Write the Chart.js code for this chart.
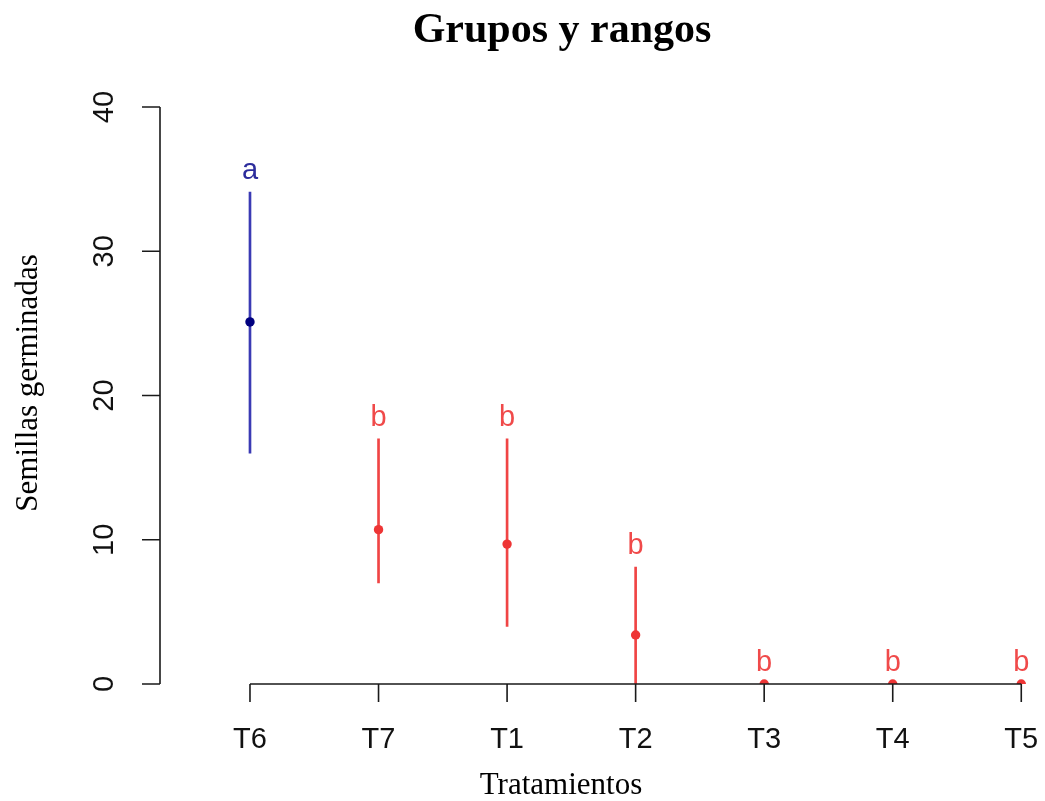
<!DOCTYPE html>
<html>
<head>
<meta charset="utf-8">
<script src="https://cdn.jsdelivr.net/npm/chart.js@4.4.1/dist/chart.umd.min.js"></script>
<style>
  body { margin: 0; background: #ffffff; }
  canvas { display: block; }
</style>
</head>
<body>
<canvas id="myChart" width="1045" height="801"></canvas>
<script>
// values
var treatments = ["T6", "T7", "T1", "T2", "T3", "T4", "T5"];
var means = [25.1, 10.7, 9.7, 3.4, 0, 0, 0];
var mins = [16, 7, 4, 0, 0, 0, 0];
var maxs = [34.1, 17, 17, 8.1, 0, 0, 0];
var groups = ["a", "b", "b", "b", "b", "b", "b"];
var yTicks = [0, 10, 20, 30, 40];

var lineColors = groups.map(function (g) { return g == "a" ? "#3a3ab4" : "#f04444"; });
var pointColors = groups.map(function (g) { return g == "a" ? "#00007f" : "#ee3535"; });
var textColors = groups.map(function (g) { return g == "a" ? "#2c2c9c" : "#f04a4a"; });

var ranges = treatments.map(function (t, i) {
  return { x: i, y: [mins[i], maxs[i]] };
});
var centers = treatments.map(function (t, i) {
  return { x: i, y: means[i] };
});

// R style axes, title and group letters
var rAxes = {
  id: "rAxes",
  afterDraw: function (chart) {
    var ctx = chart.ctx;
    var xs = chart.scales.x;
    var ys = chart.scales.y;
    ctx.save();
    ctx.strokeStyle = "#1a1a1a";
    ctx.lineWidth = 1.6;
    ctx.fillStyle = "#111111";

    // y axis
    var ax = chart.chartArea.left;
    ctx.beginPath();
    ctx.moveTo(ax, ys.getPixelForValue(yTicks[0]));
    ctx.lineTo(ax, ys.getPixelForValue(yTicks[yTicks.length - 1]));
    yTicks.forEach(function (v) {
      var py = ys.getPixelForValue(v);
      ctx.moveTo(ax, py);
      ctx.lineTo(ax - 18, py);
    });
    ctx.stroke();
    ctx.font = "29px 'Liberation Sans', Arial, sans-serif";
    ctx.textAlign = "center";
    ctx.textBaseline = "middle";
    yTicks.forEach(function (v) {
      var py = ys.getPixelForValue(v);
      ctx.save();
      ctx.translate(ax - 55, py);
      ctx.rotate(-Math.PI / 2);
      ctx.fillText(String(v), 0, 0);
      ctx.restore();
    });

    // x axis
    var by = ys.getPixelForValue(0);
    ctx.beginPath();
    ctx.moveTo(xs.getPixelForValue(0), by);
    ctx.lineTo(xs.getPixelForValue(treatments.length - 1), by);
    treatments.forEach(function (t, i) {
      var px = xs.getPixelForValue(i);
      ctx.moveTo(px, by);
      ctx.lineTo(px, by + 18);
    });
    ctx.stroke();
    treatments.forEach(function (t, i) {
      ctx.fillText(t, xs.getPixelForValue(i), by + 56);
    });

    // group letters
    groups.forEach(function (g, i) {
      ctx.fillStyle = textColors[i];
      ctx.fillText(g, xs.getPixelForValue(i), ys.getPixelForValue(maxs[i] + 1.45));
    });

    // titles
    ctx.fillStyle = "#000000";
    ctx.font = "bold 42px 'Liberation Serif', 'Times New Roman', serif";
    ctx.fillText("Grupos y rangos", 562, 31);
    ctx.font = "31px 'Liberation Serif', 'Times New Roman', serif";
    ctx.fillText("Tratamientos", 561, 786);
    ctx.save();
    ctx.translate(29, 383);
    ctx.rotate(-Math.PI / 2);
    ctx.fillText("Semillas germinadas", 0, 0);
    ctx.restore();
    ctx.restore();
  }
};

var chart = new Chart("myChart", {
  type: "bar",
  data: {
    datasets: [{
        type: "scatter",
        label: "media",
        data: centers,
        pointBackgroundColor: pointColors,
        pointBorderWidth: 0,
        pointRadius: 4.7
      },
      {
        label: "rango",
        data: ranges,
        backgroundColor: lineColors,
        borderWidth: 0,
        barThickness: 2
      }
    ]
  },
  plugins: [rAxes],
  options: {
    responsive: false,
    animation: false,
    devicePixelRatio: 1,
    layout: {
      padding: { left: 160, right: 0, top: 107, bottom: 117 }
    },
    plugins: {
      legend: { display: false },
      tooltip: { enabled: false }
    },
    scales: {
      x: {
        type: "linear",
        display: false,
        offset: false,
        min: -0.7,
        max: 6.148
      },
      y: {
        display: false,
        min: 0,
        max: 40
      }
    }
  }
});
</script>
</body>
</html>
